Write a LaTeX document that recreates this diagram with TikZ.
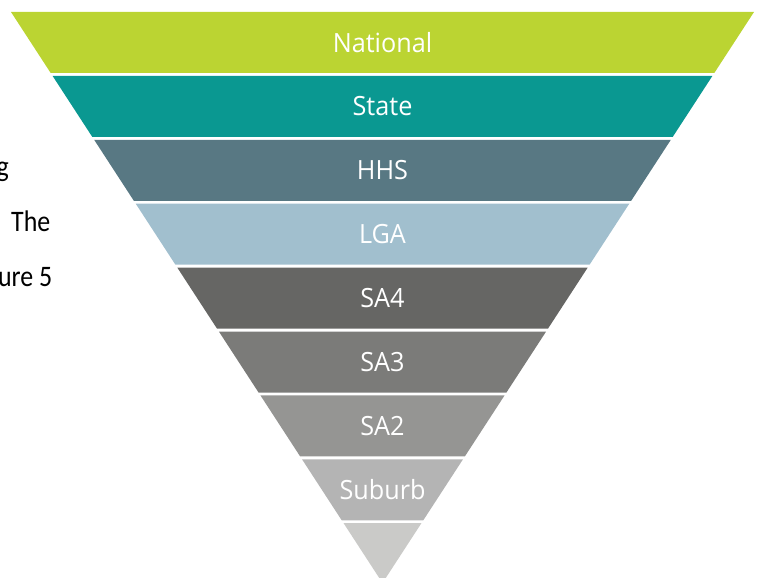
\documentclass[tikz,border=0pt]{standalone}
\usepackage{fontspec}
\setmainfont{Carlito}
\newfontfamily\labelfont{Open Sans}
\definecolor{cNat}{HTML}{BBD432}
\definecolor{cState}{HTML}{0A9891}
\definecolor{cHHS}{HTML}{587883}
\definecolor{cLGA}{HTML}{A1BFCE}
\definecolor{cSAfour}{HTML}{666664}
\definecolor{cSAthree}{HTML}{7B7B79}
\definecolor{cSAtwo}{HTML}{959593}
\definecolor{cSuburb}{HTML}{B4B4B4}
\definecolor{cTip}{HTML}{CACAC8}
\tikzset{
  bandlabel/.style={text=white, font=\labelfont\fontsize{25.3}{30}\selectfont, inner sep=0pt, yscale=1.05},
  bodytext/.style={text=black, font=\fontsize{26}{31}\selectfont, inner sep=0pt, anchor=base east, yscale=1.15}
}
\begin{document}
\begin{tikzpicture}[x=1bp, y=-1bp]
  \useasboundingbox (0,0) rectangle (759,578);
  \clip (0,0) rectangle (759,578);
  % stacked bands of the inverted pyramid
  \foreach \i/\lbl/\col in {0/National/cNat, 1/State/cState, 2/HHS/cHHS, 3/LGA/cLGA,
                            4/SA4/cSAfour, 5/SA3/cSAthree, 6/SA2/cSAtwo, 7/Suburb/cSuburb} {
    \pgfmathsetmacro\yt{12+63.9*\i}
    \pgfmathsetmacro\yb{\yt+61}
    \pgfmathsetmacro\wt{(583-\yt)*0.6506}
    \pgfmathsetmacro\wb{(583-\yb)*0.6506}
    \fill[\col] (382.5-\wt,\yt) -- (382.5+\wt,\yt) -- (382.5+\wb,\yb) -- (382.5-\wb,\yb) -- cycle;
    \node[bandlabel] (band\i) at (382.5,\yt+30.5) {\lbl};
  }
  % tip of the pyramid
  \pgfmathsetmacro\yt{12+63.9*8}
  \pgfmathsetmacro\wt{(583-\yt)*0.6506}
  \fill[cTip] (382.5-\wt,\yt) -- (382.5+\wt,\yt) -- (382.5,583) -- cycle;
  % fragments of running text on the left
  \node[bodytext] (txtA) at (9,177) {g};
  \node[bodytext] (txtB) at (50.5,231.5) {The};
  \node[bodytext] (txtC) at (52.5,286) {ure 5};
\end{tikzpicture}
\end{document}
